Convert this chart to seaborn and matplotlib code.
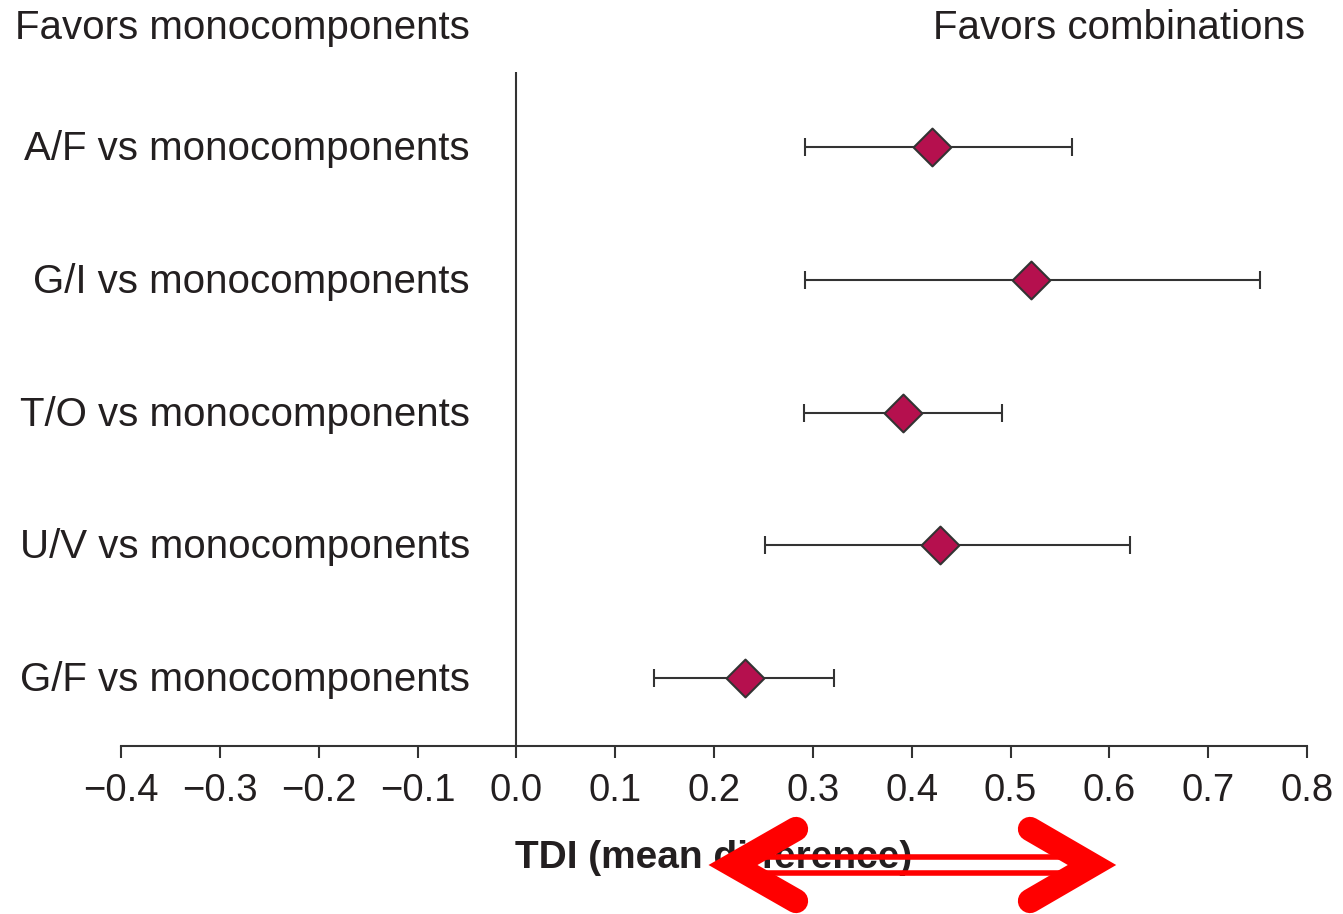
import numpy as np
import pandas as pd
import matplotlib
matplotlib.use("Agg")
import matplotlib.pyplot as plt
from matplotlib.lines import Line2D
from matplotlib.transforms import ScaledTranslation
import seaborn as sns

# ---- data ----
comparisons = ["A/F vs monocomponents", "G/I vs monocomponents", "T/O vs monocomponents",
               "U/V vs monocomponents", "G/F vs monocomponents"]
mean_diff = [0.421, 0.521, 0.391, 0.429, 0.231]
ci_lower = [0.292, 0.292, 0.291, 0.252, 0.139]
ci_upper = [0.562, 0.752, 0.491, 0.621, 0.321]
x_ticks = [-0.4, -0.3, -0.2, -0.1, 0.0, 0.1, 0.2, 0.3, 0.4, 0.5, 0.6, 0.7, 0.8]
x_tick_labels = ["\u22120.4", "\u22120.3", "\u22120.2", "\u22120.1", "0.0", "0.1", "0.2",
                 "0.3", "0.4", "0.5", "0.6", "0.7", "0.8"]
left_note = "Favors monocomponents"
right_note = "Favors combinations"
x_label = "TDI (mean difference)"

sns.set_theme(style="white")
plt.rcParams["font.family"] = ["Liberation Sans", "DejaVu Sans"]

TXT = "#231f20"
DARK = "#333333"
MARK = "#b5104e"

W, H = 1343, 914
fig = plt.figure(figsize=(W / 100, H / 100), dpi=100)
ax = fig.add_axes([121 / W, 1 - 746 / H, (1307 - 121) / W, (746 - 72) / H])

df = pd.DataFrame({
    "comparison": comparisons,
    "row": np.arange(len(comparisons)),
    "mean": mean_diff,
    "lo": ci_lower,
    "hi": ci_upper,
})

ax.axvline(0, color=DARK, lw=1.5, zorder=1)
ax.errorbar(df["mean"], df["row"],
            xerr=[df["mean"] - df["lo"], df["hi"] - df["mean"]],
            fmt="none", ecolor=DARK, elinewidth=1.5, capsize=6.8, capthick=1.5, zorder=2)
sns.scatterplot(data=df, x="mean", y="row", marker="D", s=370, color=MARK,
                edgecolor=DARK, linewidth=1.5, zorder=3, ax=ax, legend=False)

ax.set_xlim(-0.4, 0.8)
ax.set_ylim(4.512, -0.565)
ax.set_xticks(x_ticks)
ax.set_xticklabels(x_tick_labels, fontsize=27.5, color=TXT)
ax.set_yticks(df["row"])
ax.set_yticklabels(df["comparison"], fontsize=29, color=TXT)
ax.tick_params(axis="y", length=0, pad=-(470 - 121) * 0.72)
ax.tick_params(axis="x", direction="out", length=8.6, width=1.5, color=DARK, pad=11, bottom=True)
shift_up = ScaledTranslation(0, 2 / 100, fig.dpi_scale_trans)
for lab in ax.get_yticklabels():
    lab.set_transform(lab.get_transform() + shift_up)
for side in ["top", "right", "left"]:
    ax.spines[side].set_visible(False)
ax.spines["bottom"].set_color(DARK)
ax.spines["bottom"].set_linewidth(1.5)
ax.set_xlabel(x_label, fontsize=28, fontweight="bold", color=TXT, labelpad=22)
ax.set_ylabel("")
ax.grid(False)

fig.text(15 / W, 1 - 28 / H, left_note, ha="left", va="center", fontsize=29, color=TXT)
fig.text(1305 / W, 1 - 28 / H, right_note, ha="right", va="center", fontsize=29, color=TXT)


# ---- red double arrow overlay ----
def fx(x):
    return x / W


def fy(y):
    return 1 - y / H


for yy in (857, 873):
    fig.add_artist(Line2D([fx(745), fx(1080)], [fy(yy), fy(yy)], transform=fig.transFigure,
                          color="#ff0000", lw=4.0, solid_capstyle="butt", zorder=10))
fig.add_artist(Line2D([fx(796), fx(733), fx(796)], [fy(829), fy(865), fy(901)],
                      transform=fig.transFigure, color="#ff0000", lw=17.5,
                      solid_capstyle="round", solid_joinstyle="miter", zorder=11))
fig.add_artist(Line2D([fx(1030), fx(1092), fx(1030)], [fy(829), fy(865), fy(901)],
                      transform=fig.transFigure, color="#ff0000", lw=17.5,
                      solid_capstyle="round", solid_joinstyle="miter", zorder=11))

fig.savefig("out.png", dpi=100, facecolor="white")
